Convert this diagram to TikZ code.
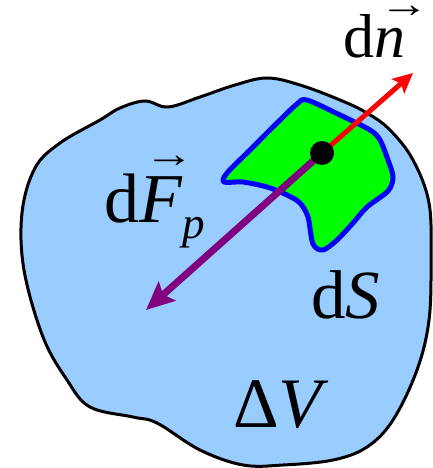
\documentclass[tikz,border=0pt]{standalone}
\usepackage{fontspec}
\setmainfont{Liberation Serif}
\usetikzlibrary{arrows.meta,positioning}

\definecolor{volblue}{RGB}{153,204,255}
\definecolor{patchgreen}{RGB}{0,255,0}
\definecolor{patchblue}{RGB}{0,0,255}
\definecolor{forcepurple}{RGB}{128,0,128}

% vector arrow over an italic letter: #2 shift right, #3 raise
\newcommand{\vecit}[3]{\rlap{\hspace*{#2}\raisebox{#3}{\scalebox{1.25}[1]{\fontsize{40}{40}\selectfont\upshape →}}}\textit{#1}}

\begin{document}
\begin{tikzpicture}[
    x=1pt, y=-1pt,
    volume/.style={draw=black, line width=3pt, fill=volblue},
    surface/.style={draw=patchblue, line width=5pt, fill=patchgreen, line join=round},
    normalarrow/.style={-{Stealth[length=20pt, width=19pt, inset=4pt]}, line width=5pt, draw=red},
    forcearrow/.style={-{Stealth[length=28pt, width=25pt, inset=5pt]}, line width=7pt, draw=forcepurple},
    point/.style={circle, fill=black, minimum size=24pt, inner sep=0pt},
    textlabel/.style={anchor=base west, inner sep=0pt},
]
    \useasboundingbox (0,0) rectangle (433,468);

    % Volume
    \draw [volume] plot [smooth cycle, tension=0.6] coordinates {
        (145,101) (168,107) (200,97) (235,85) (267,78) (300,85) (340,100)
        (367,113) (390,130) (413,160) (429,203) (431,260) (429,320) (417,370)
        (393,420) (367,447) (333,460) (283,465) (243,465) (200,450) (157,423)
        (133,417) (90,407) (67,380) (43,337) (24,270) (22,213) (35,168)
        (60,143) (100,120) (120,108)};

    % Surface element
    \draw [surface] plot [smooth cycle, tension=0.5] coordinates {
        (307,100) (340,115) (370,130) (380,140) (388,160) (393,177) (388,191)
        (367,207) (353,223) (337,240) (323,250) (313,244) (308,217) (300,203)
        (287,195) (267,187) (243,182) (224,182) (227,173) (250,150) (277,123)
        (297,104)};

    % Arrows
    \coordinate (pt) at (322,153);
    \coordinate (ntip) at (413,73);
    \coordinate (ftip) at (146,310);
    \draw [forcearrow] (pt) -- (ftip);
    \draw [normalarrow] (pt) -- (ntip);
    \node [point] (dot) at (pt) {};

    % Labels
    \node [textlabel, font=\fontsize{62}{74}\selectfont] (dn) at (343,58) {d\vecit{n}{5pt}{40pt}};
    \node [textlabel, font=\fontsize{70}{84}\selectfont] (dFp) at (104,222) {d\vecit{F}{5pt}{55pt}\raisebox{-16pt}{\fontsize{45}{54}\selectfont\itshape p}};
    \node [textlabel, font=\fontsize{69}{83}\selectfont] (dS) at (311,318) {d\textit{S}};
    \node [textlabel, font=\fontsize{71}{85}\selectfont] (dV) at (233,427) {Δ\textit{V}};

\end{tikzpicture}
\end{document}
